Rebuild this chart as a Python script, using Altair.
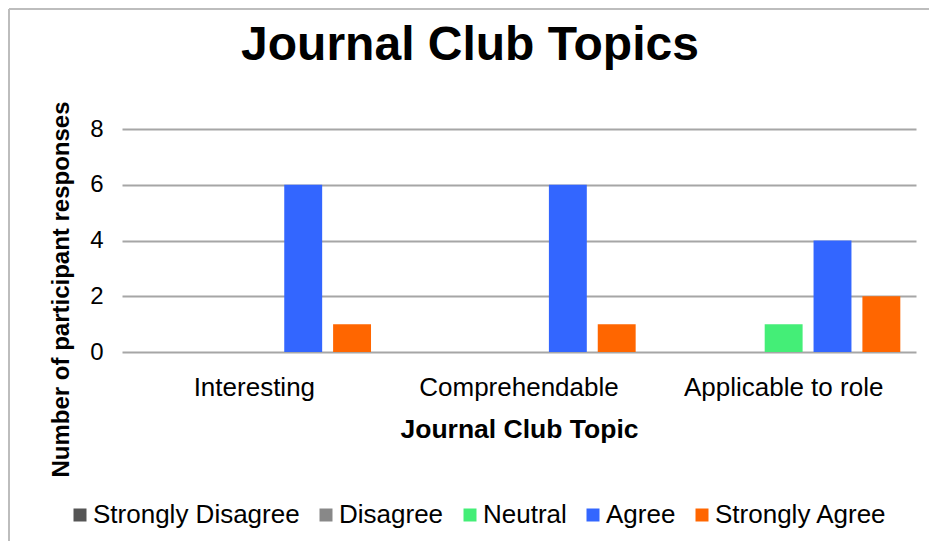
import altair as alt
import pandas as pd

topics = ["Interesting", "Comprehendable", "Applicable to role"]
responses = ["Strongly Disagree", "Disagree", "Neutral", "Agree", "Strongly Agree"]
strongly_disagree = [0, 0, 0]
disagree = [0, 0, 0]
neutral = [0, 0, 1]
agree = [6, 6, 4]
strongly_agree = [1, 1, 2]
colors = ["#555555", "#888888", "#44EE77", "#3366FF", "#FF6600"]
y_ticks = [0, 2, 4, 6, 8]

rows = []
for r, vals in zip(responses, [strongly_disagree, disagree, neutral, agree, strongly_agree]):
    for t, v in zip(topics, vals):
        rows.append({"topic": t, "response": r, "count": v})
df = pd.DataFrame(rows)

FONT = "Liberation Sans"

bars = alt.Chart(df).mark_bar().encode(
    x=alt.X(
        "topic:N", sort=topics,
        scale=alt.Scale(paddingInner=0.077, paddingOuter=0.0386),
        axis=alt.Axis(
            title="Journal Club Topic", labelAngle=0, labelFontSize=26, labelPadding=22,
            labelLimit=0, ticks=False, tickSize=0, domain=False,
            labelColor="#000", titleColor="#000",
            titleFontSize=26.5, titleFontWeight="bold", titleX=397, titleY=85,
            titleBaseline="alphabetic", titleAlign="center",
        ),
    ),
    xOffset=alt.XOffset("response:N", sort=responses,
                        scale=alt.Scale(paddingInner=0.224, paddingOuter=0.112)),
    y=alt.Y(
        "count:Q", scale=alt.Scale(domain=[0, 8]),
        axis=alt.Axis(
            values=y_ticks, title="Number of participant responses", grid=True,
            gridColor="#a6a6a6", gridWidth=2, domain=False, ticks=False, tickSize=0,
            labelPadding=19, labelFontSize=24, labelColor="#000", titleColor="#000",
            titleFontSize=24, titleFontWeight="bold", titleX=-61, titleY=160,
            titleBaseline="middle", titleAlign="center", titleAngle=270, titleLimit=0,
        ),
    ),
    color=alt.Color(
        "response:N", sort=responses,
        scale=alt.Scale(domain=responses, range=colors),
        legend=alt.Legend(
            title=None, orient="none", legendX=-55, legendY=373, direction="horizontal",
            columns=5, symbolType="square", symbolSize=169, labelFontSize=26,
            labelOffset=0, columnPadding=13, symbolStrokeWidth=0, labelColor="#000",
            labelLimit=0,
        ),
    ),
)

one = pd.DataFrame({"k": [0]})
border_top = alt.Chart(one).mark_rule(color="#bdbdbd", strokeWidth=2).encode(
    x=alt.value(-113), x2=alt.value(807), y=alt.value(-120)
)
border_left = alt.Chart(one).mark_rule(color="#bdbdbd", strokeWidth=2).encode(
    x=alt.value(-113), y=alt.value(-120), y2=alt.value(412)
)

chart = alt.layer(bars, border_top, border_left).properties(
    width=794, height=223,
    title=alt.TitleParams("Journal Club Topics", fontSize=48, font=FONT, fontWeight="bold",
                          offset=0, dy=100, dx=-49, baseline="alphabetic", anchor="middle",
                          color="#000"),
    autosize=alt.AutoSizeParams(type="none"),
    padding={"left": 114, "top": 121, "right": 13, "bottom": 189},
).configure(font=FONT).configure_view(stroke=None)

chart.save("out.html", embed_options={"renderer": "svg", "actions": False})
